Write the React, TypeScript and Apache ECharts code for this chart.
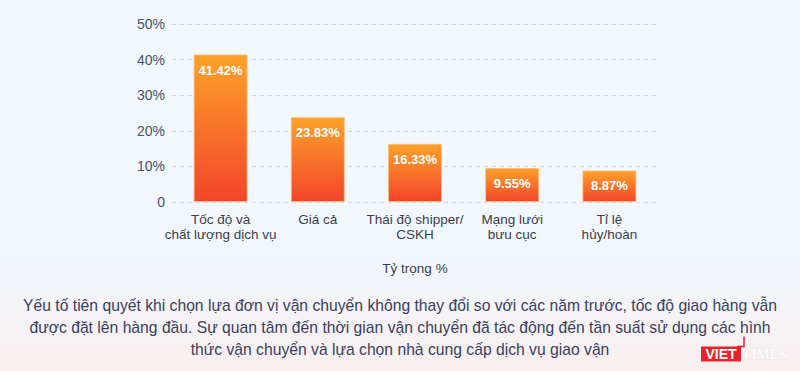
import React, { useEffect, useRef } from "react";
import * as echarts from "echarts";

const categories = [
  "Tốc độ và\nchất lượng dịch vụ",
  "Giá cả",
  "Thái độ shipper/\nCSKH",
  "Mạng lưới\nbưu cục",
  "Tỉ lệ\nhủy/hoàn",
];
const values = [41.42, 23.83, 16.33, 9.55, 8.87];
const yTicks = [0, 10, 20, 30, 40, 50];
const axisName = "Tỷ trọng %";
const captionLines = [
  "Yếu tố tiên quyết khi chọn lựa đơn vị vận chuyển không thay đổi so với các năm trước, tốc độ giao hàng vẫn",
  "được đặt lên hàng đầu. Sự quan tâm đến thời gian vận chuyển đã tác động đến tần suất sử dụng các hình",
  "thức vận chuyển và lựa chọn nhà cung cấp dịch vụ giao vận",
];

const FONT = "'Liberation Sans', Arial, Helvetica, sans-serif";

export default function App() {
  const ref = useRef<HTMLDivElement>(null);
  useEffect(() => {
    if (!ref.current) return;
    const chart = echarts.init(ref.current, undefined, { renderer: "svg" });
    chart.setOption({
      animation: false,
      backgroundColor: new echarts.graphic.LinearGradient(0, 0, 0, 1, [
        { offset: 0, color: "#f1f8fe" },
        { offset: 0.7, color: "#f1f7fd" },
        { offset: 1, color: "#f8eeee" },
      ]),
      textStyle: { fontFamily: FONT },
      grid: { left: 172, right: 142, top: 24, bottom: 169, containLabel: false },
      xAxis: {
        type: "category",
        data: categories,
        axisLine: { show: false },
        axisTick: { show: false },
        axisLabel: {
          interval: 0,
          color: "#3b3d4a",
          fontSize: 13.5,
          lineHeight: 15,
          margin: 10,
          fontFamily: FONT,
        },
        name: axisName,
        nameLocation: "middle",
        nameGap: 59,
        nameTextStyle: { color: "#3b3d4a", fontSize: 13.5, fontFamily: FONT },
      },
      yAxis: {
        type: "value",
        min: yTicks[0],
        max: yTicks[yTicks.length - 1],
        interval: 10,
        axisLine: { show: false },
        axisTick: { show: false },
        axisLabel: {
          color: "#4b5068",
          fontSize: 14,
          margin: 7,
          fontFamily: FONT,
          formatter: (v: number) => (v === 0 ? "0" : v + "%"),
        },
        splitLine: {
          lineStyle: { color: "#d3d9e0", type: [4, 4], width: 1 },
        },
      },
      series: [
        {
          type: "bar",
          data: values,
          barWidth: 54,
          itemStyle: {
            color: new echarts.graphic.LinearGradient(0, 0, 0, 1, [
              { offset: 0, color: "#fba22a" },
              { offset: 1, color: "#f3452a" },
            ]),
            borderColor: "rgba(255,190,120,0.8)",
            borderWidth: 1,
          },
          label: {
            show: true,
            position: "insideTop",
            distance: 9,
            color: "#ffffff",
            fontSize: 13,
            fontWeight: "bold",
            fontFamily: FONT,
            formatter: (p: any) => p.value.toFixed(2) + "%",
          },
        },
      ],
      graphic: [
        {
          type: "text",
          x: 400,
          y: 294,
          style: {
            text: captionLines.join("\n"),
            fill: "#3a4160",
            font: `15.7px ${FONT}`,
            lineHeight: 22,
            align: "center",
            verticalAlign: "top",
          },
        },
        {
          type: "group",
          left: 701,
          top: 334,
          children: [
            {
              type: "polyline",
              shape: { points: [[36, 11], [43, 11], [43, 1]] },
              style: { stroke: "#e8222a", lineWidth: 1.5, fill: "none" },
            },
            {
              type: "rect",
              shape: { x: 0, y: 11, width: 40, height: 15 },
              style: { fill: "#e8222a" },
            },
            {
              type: "text",
              x: 20,
              y: 18.5,
              style: {
                text: "VIET",
                fill: "#ffffff",
                font: `bold 14px ${FONT}`,
                align: "center",
                verticalAlign: "middle",
              },
            },
            {
              type: "text",
              x: 41,
              y: 18.5,
              style: {
                text: "TIMES",
                fill: "#ffffff",
                stroke: "#e6e0e4",
                lineWidth: 0.6,
                font: "15px 'Liberation Serif', serif",
                verticalAlign: "middle",
              },
            },
          ],
        },
      ],
    });
    return () => chart.dispose();
  }, []);
  return (
    <div
      ref={ref}
      style={{ position: "absolute", left: 0, top: 0, width: 800, height: 371 }}
    />
  );
}
